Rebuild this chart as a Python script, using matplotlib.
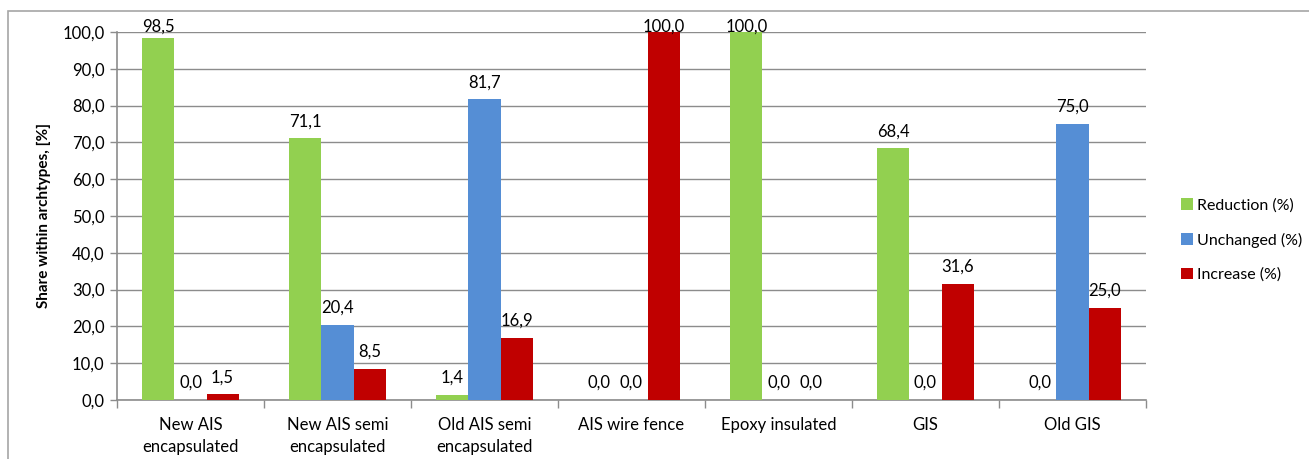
import numpy as np
import matplotlib.pyplot as plt
from matplotlib.patches import Rectangle

plt.rcParams['font.family'] = ['Lato', 'DejaVu Sans']

categories = ['New AIS\nencapsulated', 'New AIS semi\nencapsulated', 'Old AIS semi\nencapsulated',
              'AIS wire fence', 'Epoxy insulated', 'GIS', 'Old GIS']
reduction = [98.5, 71.1, 1.4, 0.0, 100.0, 68.4, 0.0]
unchanged = [0.0, 20.4, 81.7, 0.0, 0.0, 0.0, 75.0]
increase = [1.5, 8.5, 16.9, 100.0, 0.0, 31.6, 25.0]

series = [('Reduction (%)', reduction, '#92D050'),
          ('Unchanged (%)', unchanged, '#558ED5'),
          ('Increase (%)', increase, '#C00000')]

fig = plt.figure(figsize=(13.09, 4.59), dpi=100)
ax = fig.add_axes([117 / 1309, 1 - 400 / 459, (1146 - 117) / 1309, (400 - 32) / 459])

# outer chart frame (top and left edges only visible)
fig.patches.append(Rectangle((8 / 1309, -0.1), 1.2, 1 - 11 / 459 + 0.1, transform=fig.transFigure,
                             fill=False, edgecolor='#A6A6A6', linewidth=1.2))

x = np.arange(len(categories))
w = 0.218
for i, (name, vals, color) in enumerate(series):
    pos = x + (i - 1) * w
    ax.bar(pos, vals, w, color=color, label=name, zorder=3)
    for xp, v in zip(pos, vals):
        # labels sit above the bar but stay inside the plot area
        ypos = min(v + 3.3, 100.0)
        ax.text(xp, ypos, f'{v:.1f}'.replace('.', ','), ha='center', va='baseline',
                fontsize=12, color='black', zorder=4)

ax.set_xlim(-0.5, len(categories) - 0.5)
ax.set_ylim(0, 100)
ax.set_yticks(np.arange(0, 101, 10))
ax.set_yticklabels([f'{t:.1f}'.replace('.', ',') for t in np.arange(0, 101, 10)], fontsize=12)
ax.yaxis.grid(True, color='#8C8C8C', linewidth=1.0, zorder=0)
ax.set_axisbelow(True)

# category labels between boundary ticks
ax.set_xticks(np.arange(-0.5, len(categories), 1.0))
ax.set_xticklabels([])
ax.set_xticks(x, minor=True)
ax.set_xticklabels(categories, minor=True, fontsize=12, linespacing=1.5)
ax.tick_params(axis='x', which='minor', length=0, pad=12)
ax.tick_params(axis='x', which='major', length=6, color='#8C8C8C', width=1)
ax.tick_params(axis='y', length=5, color='#8C8C8C', width=1, pad=4)

for s in ['top', 'right']:
    ax.spines[s].set_visible(False)
for s in ['left', 'bottom']:
    ax.spines[s].set_color('#8C8C8C')
    ax.spines[s].set_linewidth(1.2)

ax.set_ylabel('Share within archtypes, [%]', fontsize=11, fontweight='bold', labelpad=8)

ax.legend(loc='center left', bbox_to_anchor=(1167 / 1309, 1 - 240 / 459), bbox_transform=fig.transFigure,
          frameon=False, fontsize=11.5, handlelength=0.7, handleheight=0.7, handletextpad=0.3,
          labelspacing=1.25)

fig.savefig('out.png', dpi=100)
